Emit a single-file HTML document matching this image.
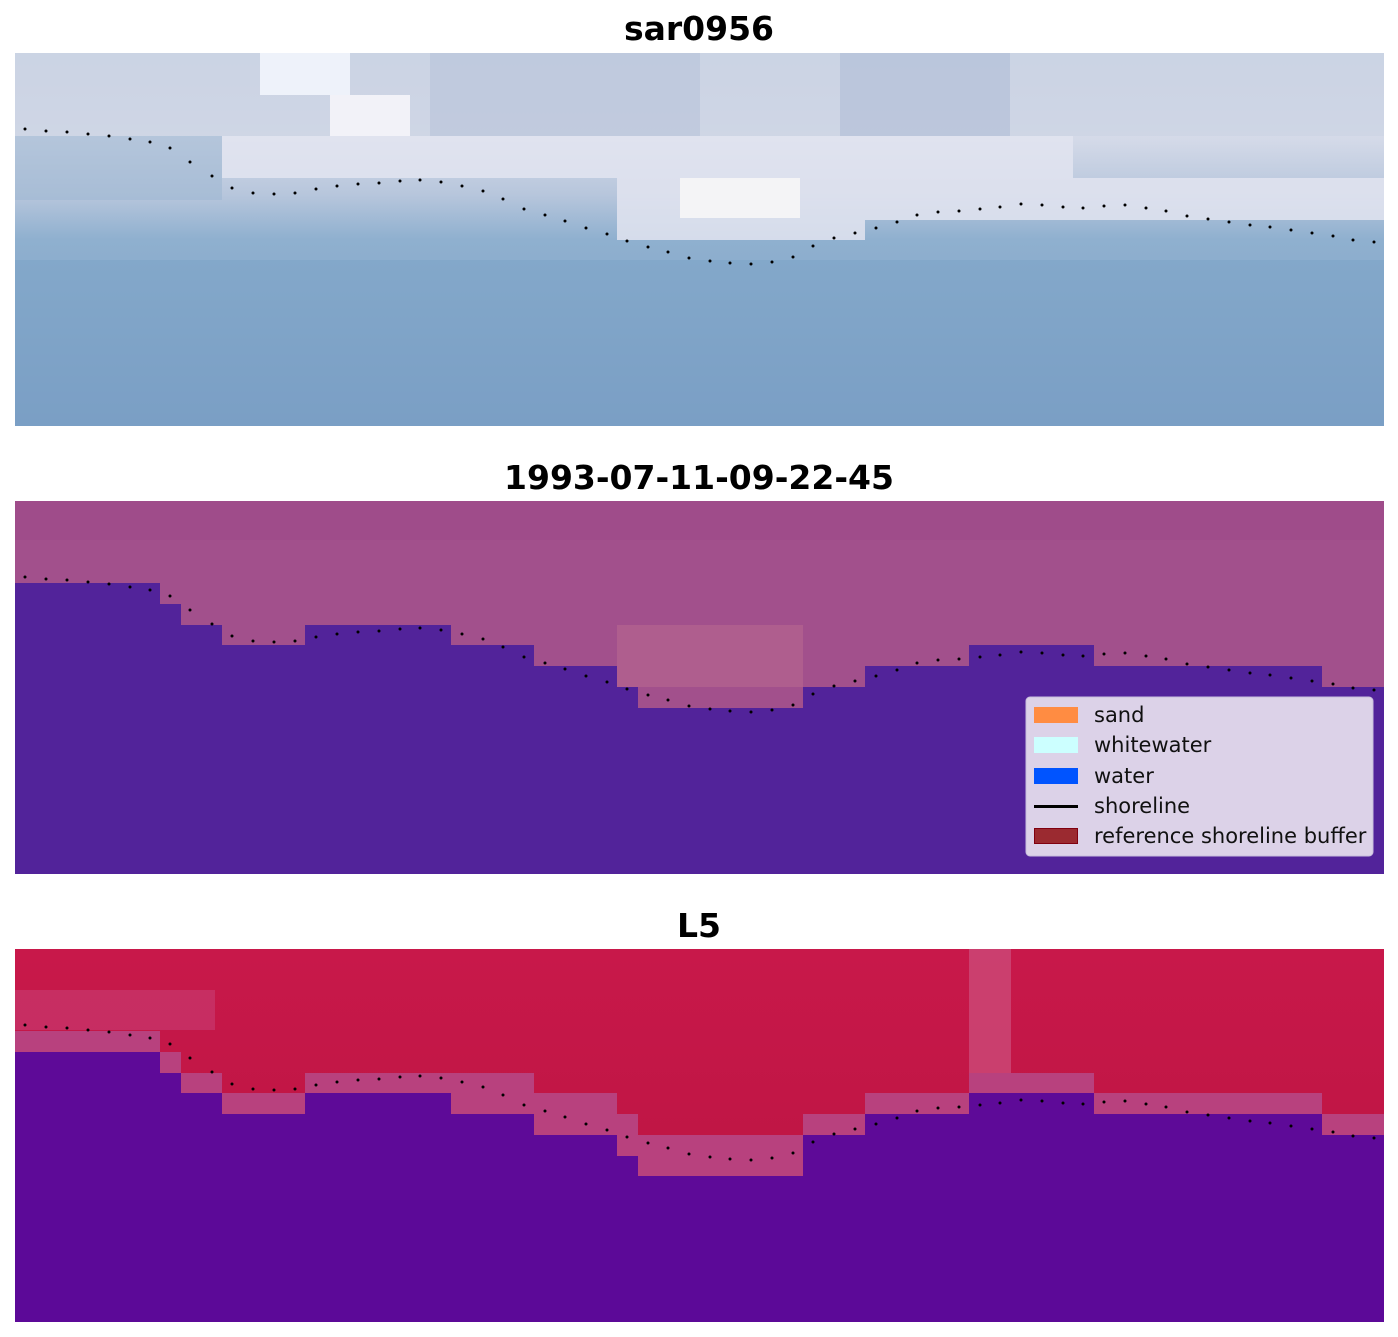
<!DOCTYPE html>
<html><head><meta charset="utf-8"><style>
html,body{margin:0;padding:0;background:#fff;}
svg{display:block;}
</style></head><body>
<svg width="1398" height="1337" viewBox="0 0 1398 1337" xmlns="http://www.w3.org/2000/svg" font-family="DejaVu Sans, Liberation Sans, sans-serif">
<defs>
<linearGradient id="g1" x1="0" y1="0" x2="0" y2="1">
<stop offset="0" stop-color="#cdd6e6"/><stop offset="0.22" stop-color="#d6dbe9"/><stop offset="0.38" stop-color="#b7c6dc"/><stop offset="0.5" stop-color="#8fb0cf"/><stop offset="1" stop-color="#7b9cc4"/>
</linearGradient>
<linearGradient id="g3" x1="0" y1="0" x2="0" y2="1">
<stop offset="0" stop-color="#c8184a"/><stop offset="1" stop-color="#c01645"/>
</linearGradient>
<g id="dots"></g>
</defs>
<text x="699" y="40" font-size="33" font-weight="bold" text-anchor="middle">sar0956</text>
<text x="699" y="489" font-size="33" font-weight="bold" text-anchor="middle">1993-07-11-09-22-45</text>
<text x="699" y="937" font-size="33" font-weight="bold" text-anchor="middle">L5</text>

<rect x="15" y="53" width="1369" height="373" fill="url(#g1)"/>
<path d="M15,53 H1384 V136 H15Z" fill="#c9d2e3" opacity="0.6"/>
<path d="M430,53 H700 V136 H430Z" fill="#b4c0d8" opacity="0.5"/>
<path d="M840,53 H1010 V136 H840Z" fill="#aab8d4" opacity="0.5"/>
<path d="M222,136 H1073 V178 H1384 V220 H865 V240 H617 V178 H222Z" fill="#e2e4f0" opacity="0.85"/>
<path d="M680,178 H800 V218 H680Z" fill="#f4f4f6"/>
<path d="M260,53 H350 V95 H260Z" fill="#eef2fa"/>
<path d="M330,95 H410 V136 H330Z" fill="#f2f2f8"/>
<path d="M15,136 H222 V200 H15Z" fill="#9fb7d2" opacity="0.6"/>
<path d="M15,260 H1384 V426 H15Z" fill="#7aa2c6" opacity="0.5"/>

<rect x="15" y="501" width="1369" height="373" fill="#52239a"/>
<path d="M15,501 H1384 V687 H1322 V666 H1094 V645 H969 V666 H865 V687 H803 V708 H638 V687 H617 V666 H534 V645 H451 V625 H305 V645 H222 V625 H181 V604 H160 V583 H15Z" fill="#a2508c"/>
<path d="M617,625 H803 V687 H617Z" fill="#b3628f" opacity="0.8"/>
<path d="M15,501 H1384 V540 H15Z" fill="#9c4a88" opacity="0.6"/>
<rect x="1026" y="697" width="347" height="159" rx="4" fill="#dcd2e8" stroke="#c8bedd"/>
<rect x="1034" y="707" width="44" height="16" fill="#ff8c42"/>
<rect x="1034" y="737" width="44" height="16" fill="#ccffff"/>
<rect x="1034" y="768" width="44" height="16" fill="#0054ff"/>
<rect x="1034" y="805" width="44" height="3" fill="#000"/>
<rect x="1034.5" y="828.5" width="43" height="15" fill="#9b2a30" stroke="#800010"/>
<g font-size="21" fill="#111">
<text x="1094" y="722">sand</text>
<text x="1094" y="752">whitewater</text>
<text x="1094" y="783">water</text>
<text x="1094" y="813">shoreline</text>
<text x="1094" y="843">reference shoreline buffer</text>
</g>

<rect x="15" y="949" width="1369" height="373" fill="#5e0a98"/>
<path d="M15,949 H1384 V1135 H1322 V1114 H1094 V1093 H969 V1114 H865 V1135 H803 V1176 H638 V1156 H617 V1135 H534 V1114 H451 V1093 H305 V1114 H222 V1093 H181 V1073 H160 V1052 H15Z" fill="#b8417e"/>
<path d="M15,949 H1384 V1114 H1322 V1093 H1094 V1073 H969 V1093 H865 V1114 H803 V1135 H638 V1114 H617 V1093 H534 V1073 H451 V1073 H305 V1093 H222 V1073 H181 V1052 H160 V1031 H15Z" fill="url(#g3)"/>
<rect x="969" y="949" width="42" height="124" fill="#cc4a78" opacity="0.8"/>
<rect x="15" y="990" width="200" height="40" fill="#c8386e" opacity="0.7"/>
<rect x="15" y="1200" width="1369" height="122" fill="#5a0898" opacity="0.5"/>

<use href="#dots"/>
<use href="#dots" y="448"/>
<use href="#dots" y="896"/>
</svg>
<script>
var p=[[25,129],[46,131],[67,132],[88,134],[109,136],[130,139],[150,142],[170,148],[190,162],[212,176],[232,188],[253,193],[274,194],[295,193],[316,189],[337,186],[358,184],[379,183],[400,181],[420,180],[441,182],[462,186],[483,191],[503,199],[524,209],[545,215],[565,221],[586,228],[607,234],[627,241],[648,247],[668,252],[689,258],[710,261],[730,263],[751,264],[772,262],[793,257],[813,246],[834,238],[855,233],[876,228],[897,222],[917,215],[938,212],[959,211],[980,209],[1000,207],[1021,204],[1042,205],[1063,207],[1083,208],[1104,206],[1125,205],[1146,208],[1166,211],[1187,216],[1208,219],[1229,222],[1250,225],[1270,227],[1291,230],[1312,233],[1333,236],[1353,240],[1374,242]];
var g=document.getElementById('dots'),s='';
for(var i=0;i<p.length;i++){s+='<circle cx="'+p[i][0]+'" cy="'+p[i][1]+'" r="1.5" fill="#000"/>';}
g.innerHTML=s;
</script>
</body></html>
